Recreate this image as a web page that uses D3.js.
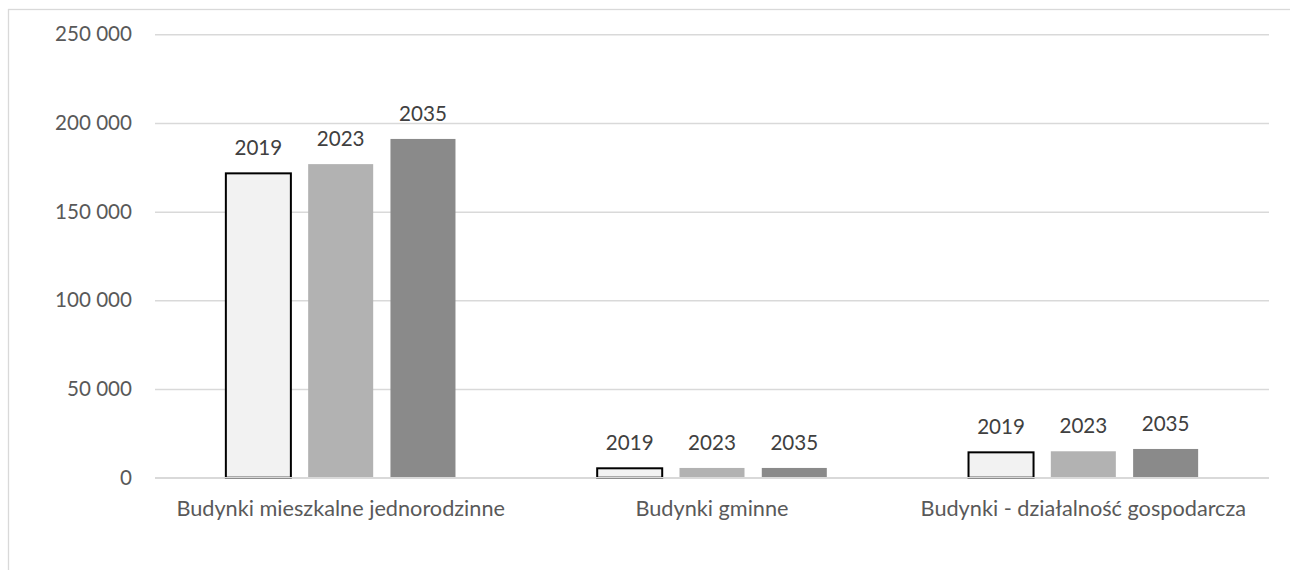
<!DOCTYPE html>
<html><head><meta charset="utf-8">
<script src="https://cdn.jsdelivr.net/npm/d3@7"></script>
<style>
  body { margin: 0; background: #fff; }
  svg { display: block; }
</style>
</head><body>
<svg id="chart" width="1290" height="570"></svg>
<script>
// Building categories and the three reference years
const categories = ["Budynki mieszkalne jednorodzinne", "Budynki gminne", "Budynki - działalność gospodarcza"];
const years = ["2019", "2023", "2035"];
const values2019 = [171600, 5300, 14300];
const values2023 = [176800, 5500, 14900];
const values2035 = [191000, 5500, 16200];
const yTicks = [0, 50000, 100000, 150000, 200000, 250000];

const seriesValues = [values2019, values2023, values2035];
const fills = ["#f2f2f2", "#b2b2b2", "#8a8a8a"];

const svg = d3.select("#chart");
const W = 1290, H = 570;
const plot = { left: 155, right: 1269, top: 34.3, bottom: 477.7 };

// outer chart frame (only its left and top edges fall inside the view)
svg.append("rect")
  .attr("x", 8.5).attr("y", 9.5)
  .attr("width", W + 20).attr("height", H + 20)
  .attr("fill", "#fff")
  .attr("stroke", "#d9d9d9").attr("stroke-width", 1.3);

const x = d3.scaleBand().domain(categories).range([plot.left, plot.right]).paddingInner(0).paddingOuter(0);
const xs = d3.scaleBand().domain(years).range([0, x.bandwidth()]).paddingInner(0.21).paddingOuter(0.861);
const y = d3.scaleLinear().domain([0, 250000]).range([plot.bottom, plot.top]);

const fmt = v => d3.format(",")(v).replace(/,/g, " ");

// horizontal gridlines + tick labels
const yAxis = d3.axisLeft(y).tickValues(yTicks).tickSize(-(plot.right - plot.left)).tickPadding(23).tickFormat(fmt);
const gy = svg.append("g").attr("transform", `translate(${plot.left},0)`).call(yAxis);
gy.select(".domain").remove();
gy.selectAll(".tick line").attr("stroke", "#d9d9d9").attr("stroke-width", 1.5);
gy.selectAll(".tick text")
  .attr("fill", "#595959")
  .style("font-family", "Lato, sans-serif")
  .style("font-size", "20.6px");

// bars
const rows = [];
categories.forEach((c, i) => years.forEach((yr, j) => rows.push({ cat: c, year: yr, s: j, value: seriesValues[j][i] })));

svg.append("g").selectAll("rect")
  .data(rows)
  .join("rect")
  .attr("x", d => x(d.cat) + xs(d.year))
  .attr("y", d => y(d.value))
  .attr("width", xs.bandwidth())
  .attr("height", d => y(0) - y(d.value))
  .attr("fill", d => fills[d.s])
  .attr("stroke", d => d.s === 0 ? "#000" : "none")
  .attr("stroke-width", 2);

// category axis line drawn over the bar bases
svg.append("line")
  .attr("x1", plot.left).attr("x2", plot.right)
  .attr("y1", y(0)).attr("y2", y(0))
  .attr("stroke", "#d9d9d9").attr("stroke-width", 1.5);

// data labels showing the series year above each bar
svg.append("g").selectAll("text")
  .data(rows)
  .join("text")
  .attr("x", d => x(d.cat) + xs(d.year) + xs.bandwidth() / 2)
  .attr("y", d => y(d.value) - 18)
  .attr("text-anchor", "middle")
  .attr("fill", "#404040")
  .style("font-family", "Lato, sans-serif")
  .style("font-size", "20.6px")
  .text(d => d.year);

// category labels
svg.append("g").selectAll("text")
  .data(categories)
  .join("text")
  .attr("x", d => x(d) + x.bandwidth() / 2)
  .attr("y", 516)
  .attr("text-anchor", "middle")
  .attr("fill", "#595959")
  .style("font-family", "Lato, sans-serif")
  .style("font-size", "21.7px")
  .text(d => d);
</script></body></html>
